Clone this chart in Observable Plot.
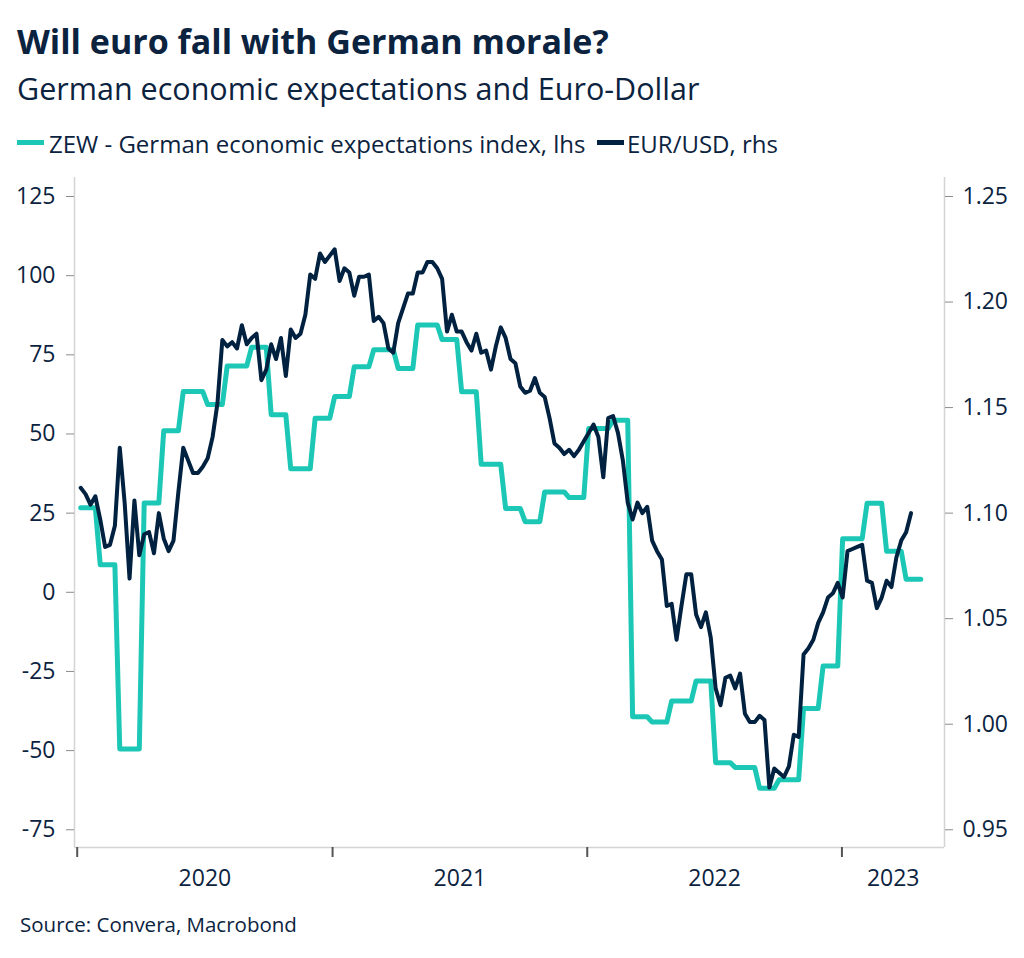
<!DOCTYPE html>
<html>
<head>
<meta charset="utf-8">
<script src="https://cdn.jsdelivr.net/npm/d3@7"></script>
<script src="https://cdn.jsdelivr.net/npm/@observablehq/plot@0.6"></script>
<style>
  body { margin: 0; background: #ffffff; }
  #wrap { position: relative; width: 1024px; height: 958px; overflow: hidden; font-family: "Open Sans", sans-serif; color: #0c2340; }
  .t { position: absolute; white-space: nowrap; line-height: 1; }
  #title { left: 17px; top: 24px; font-size: 34px; font-weight: 700; }
  #subtitle { left: 17px; top: 73px; font-size: 30.5px; }
  .lg { top: 132px; font-size: 24px; }
  .sw { position: absolute; top: 140px; width: 27px; height: 5px; }
  #source { left: 20px; top: 914px; font-size: 20.5px; }
  #chart { position: absolute; left: 0; top: 160px; }
</style>
</head>
<body>
<div id="wrap">
  <div class="t" id="title">Will euro fall with German morale?</div>
  <div class="t" id="subtitle">German economic expectations and Euro-Dollar</div>
  <div class="sw" id="sw1" style="left:17px;"></div>
  <div class="t lg" id="lg1" style="left:49px;"></div>
  <div class="sw" id="sw2" style="left:597px;"></div>
  <div class="t lg" id="lg2" style="left:627px;"></div>
  <div id="chart"></div>
  <div class="t" id="source">Source: Convera, Macrobond</div>
</div>
<script>
// ---------- Data ----------
const seriesNames = ["ZEW - German economic expectations index, lhs", "EUR/USD, rhs"];
const seriesColors = ["#1cc8b5", "#00213f"];

// ZEW monthly values, Jan 2020 .. Apr 2023
const zewMonths = [
  "2020-01","2020-02","2020-03","2020-04","2020-05","2020-06","2020-07","2020-08","2020-09","2020-10","2020-11","2020-12",
  "2021-01","2021-02","2021-03","2021-04","2021-05","2021-06","2021-07","2021-08","2021-09","2021-10","2021-11","2021-12",
  "2022-01","2022-02","2022-03","2022-04","2022-05","2022-06","2022-07","2022-08","2022-09","2022-10","2022-11","2022-12",
  "2023-01","2023-02","2023-03","2023-04"
];
const zewValues = [
  26.7, 8.7, -49.5, 28.2, 51.0, 63.4, 59.3, 71.5, 77.4, 56.1, 39.0, 55.0,
  61.8, 71.2, 76.6, 70.7, 84.4, 79.8, 63.3, 40.4, 26.5, 22.3, 31.7, 29.9,
  51.7, 54.3, -39.3, -41.0, -34.3, -28.0, -53.8, -55.3, -61.9, -59.2, -36.7, -23.3,
  16.9, 28.1, 13.0, 4.1
];

// EUR/USD weekly values, weeks starting Mon 2020-01-06 .. Mon 2023-04-10
const eurFirstWeek = "2020-01-06";
const eurLastWeek = "2023-04-10";
const eurValues = [
  // 2020
  1.112, 1.109, 1.104, 1.108, 1.097, 1.084, 1.085, 1.094, 1.131, 1.105,
  1.069, 1.106, 1.080, 1.090, 1.091, 1.081, 1.100, 1.088, 1.082, 1.087,
  1.110, 1.131, 1.125, 1.119, 1.119, 1.122, 1.126, 1.136, 1.152, 1.182,
  1.179, 1.181, 1.178, 1.189, 1.180, 1.183, 1.185, 1.163, 1.168, 1.180,
  1.173, 1.183, 1.165, 1.187, 1.183, 1.185, 1.194, 1.213, 1.211, 1.223,
  1.219, 1.222,
  // 2021
  1.225, 1.210, 1.216, 1.214, 1.203, 1.212, 1.212, 1.213, 1.191, 1.193,
  1.190, 1.178, 1.176, 1.190, 1.197, 1.204, 1.204, 1.214, 1.214, 1.219,
  1.219, 1.216, 1.211, 1.186, 1.194, 1.186, 1.186, 1.181, 1.177, 1.185,
  1.176, 1.177, 1.168, 1.179, 1.188, 1.183, 1.173, 1.171, 1.160, 1.157,
  1.158, 1.164, 1.157, 1.155, 1.145, 1.133, 1.131, 1.128, 1.130, 1.127,
  1.130, 1.134,
  // 2022
  1.138, 1.142, 1.136, 1.117, 1.145, 1.146, 1.138, 1.125, 1.105, 1.097,
  1.105, 1.100, 1.103, 1.087, 1.082, 1.078, 1.056, 1.057, 1.040, 1.056,
  1.071, 1.071, 1.052, 1.046, 1.053, 1.041, 1.017, 1.009, 1.022, 1.023,
  1.017, 1.024, 1.005, 1.001, 1.001, 1.004, 1.002, 0.970, 0.979, 0.977,
  0.975, 0.980, 0.995, 0.994, 1.033, 1.036, 1.040, 1.048, 1.053, 1.060,
  1.062, 1.067,
  // 2023
  1.060, 1.082, 1.083, 1.084, 1.085, 1.068, 1.067, 1.055, 1.060, 1.068,
  1.065, 1.079, 1.087, 1.091, 1.100
];

// Axis ticks
const leftTicks = [-75, -50, -25, 0, 25, 50, 75, 100, 125];
const rightTicks = [0.95, 1.00, 1.05, 1.10, 1.15, 1.20, 1.25];
const yearLabels = ["2020", "2021", "2022", "2023"];

// ---------- Build ----------
document.getElementById("lg1").textContent = seriesNames[0];
document.getElementById("lg2").textContent = seriesNames[1];
document.getElementById("sw1").style.background = seriesColors[0];
document.getElementById("sw2").style.background = seriesColors[1];

const parse = d3.utcParse("%Y-%m-%d");
const monthKey = d3.utcFormat("%Y-%m");
const zewByMonth = new Map(zewMonths.map((m, i) => [m, zewValues[i]]));

// ZEW sampled on the same weekly grid as the EUR/USD series (value of the month)
const zewWeeks = d3.utcMonday.range(parse("2020-01-06"), parse("2023-04-25"));
const zewData = zewWeeks.map(d => ({date: d, value: zewByMonth.get(monthKey(d))}));

const eurWeeks = d3.utcMonday.range(parse(eurFirstWeek), d3.utcDay.offset(parse(eurLastWeek), 1));
const eurData = eurWeeks.map((d, i) => ({date: d, value: eurValues[i]}));

// right axis (EUR/USD) mapped onto the left scale: 0.95 <-> -75, 1.25 <-> 125
const toLeft = v => (v - 0.95) / 0.30 * 200 - 75;
const fromLeft = l => (l + 75) / 200 * 0.30 + 0.95;

const xDomain = [new Date(Date.UTC(2019, 11, 28, 3)), new Date(Date.UTC(2023, 4, 28))];
const yDomain = [-80.6, 131.0];

const yearStarts = yearLabels.map(y => new Date(Date.UTC(+y, 0, 1)));
const yearMids = yearLabels.map(y => {
  const a = Math.max(+new Date(Date.UTC(+y, 0, 1)), +xDomain[0]);
  const b = Math.min(+new Date(Date.UTC(+y + 1, 0, 1)), +xDomain[1]);
  return new Date((a + b) / 2);
});
const labelOf = new Map(yearMids.map((d, i) => [+d, yearLabels[i]]));

const textColor = "#0c2340";

const chart = Plot.plot({
  width: 1024,
  height: 740,
  marginLeft: 74,
  marginRight: 80,
  marginTop: 17,
  marginBottom: 53,
  style: {fontFamily: "Open Sans, sans-serif", fontSize: "23px", color: textColor, background: "transparent", overflow: "visible"},
  x: {type: "utc", domain: xDomain},
  y: {domain: yDomain},
  marks: [
    Plot.ruleX(xDomain, {stroke: "#d4d4d4", strokeWidth: 1.5}),
    Plot.ruleY([yDomain[0]], {stroke: "#d4d4d4", strokeWidth: 1.5}),
    Plot.axisY(leftTicks, {anchor: "left", tickSize: 8, tickPadding: 11, stroke: "#8c8c8c", fill: textColor,
      tickFormat: d => String(d), label: null, fontSize: 23}),
    Plot.axisY(rightTicks.map(toLeft), {anchor: "right", tickSize: 8, tickPadding: 10, stroke: "#8c8c8c", fill: textColor,
      tickFormat: d => fromLeft(d).toFixed(2), label: null, fontSize: 23}),
    Plot.axisX(yearStarts, {anchor: "bottom", tickSize: 10, stroke: "#555555", strokeWidth: 2,
      tickFormat: () => "", label: null}),
    Plot.axisX(yearMids, {anchor: "bottom", tickSize: 0, tickPadding: 22, fill: textColor,
      tickFormat: d => labelOf.get(+d), label: null, fontSize: 23}),
    Plot.line(zewData, {x: "date", y: "value", stroke: seriesColors[0], strokeWidth: 5, strokeLinejoin: "round"}),
    Plot.line(eurData, {x: "date", y: d => toLeft(d.value), stroke: seriesColors[1], strokeWidth: 4, strokeLinejoin: "round"})
  ]
});
document.getElementById("chart").appendChild(chart);
</script>
</body>
</html>
